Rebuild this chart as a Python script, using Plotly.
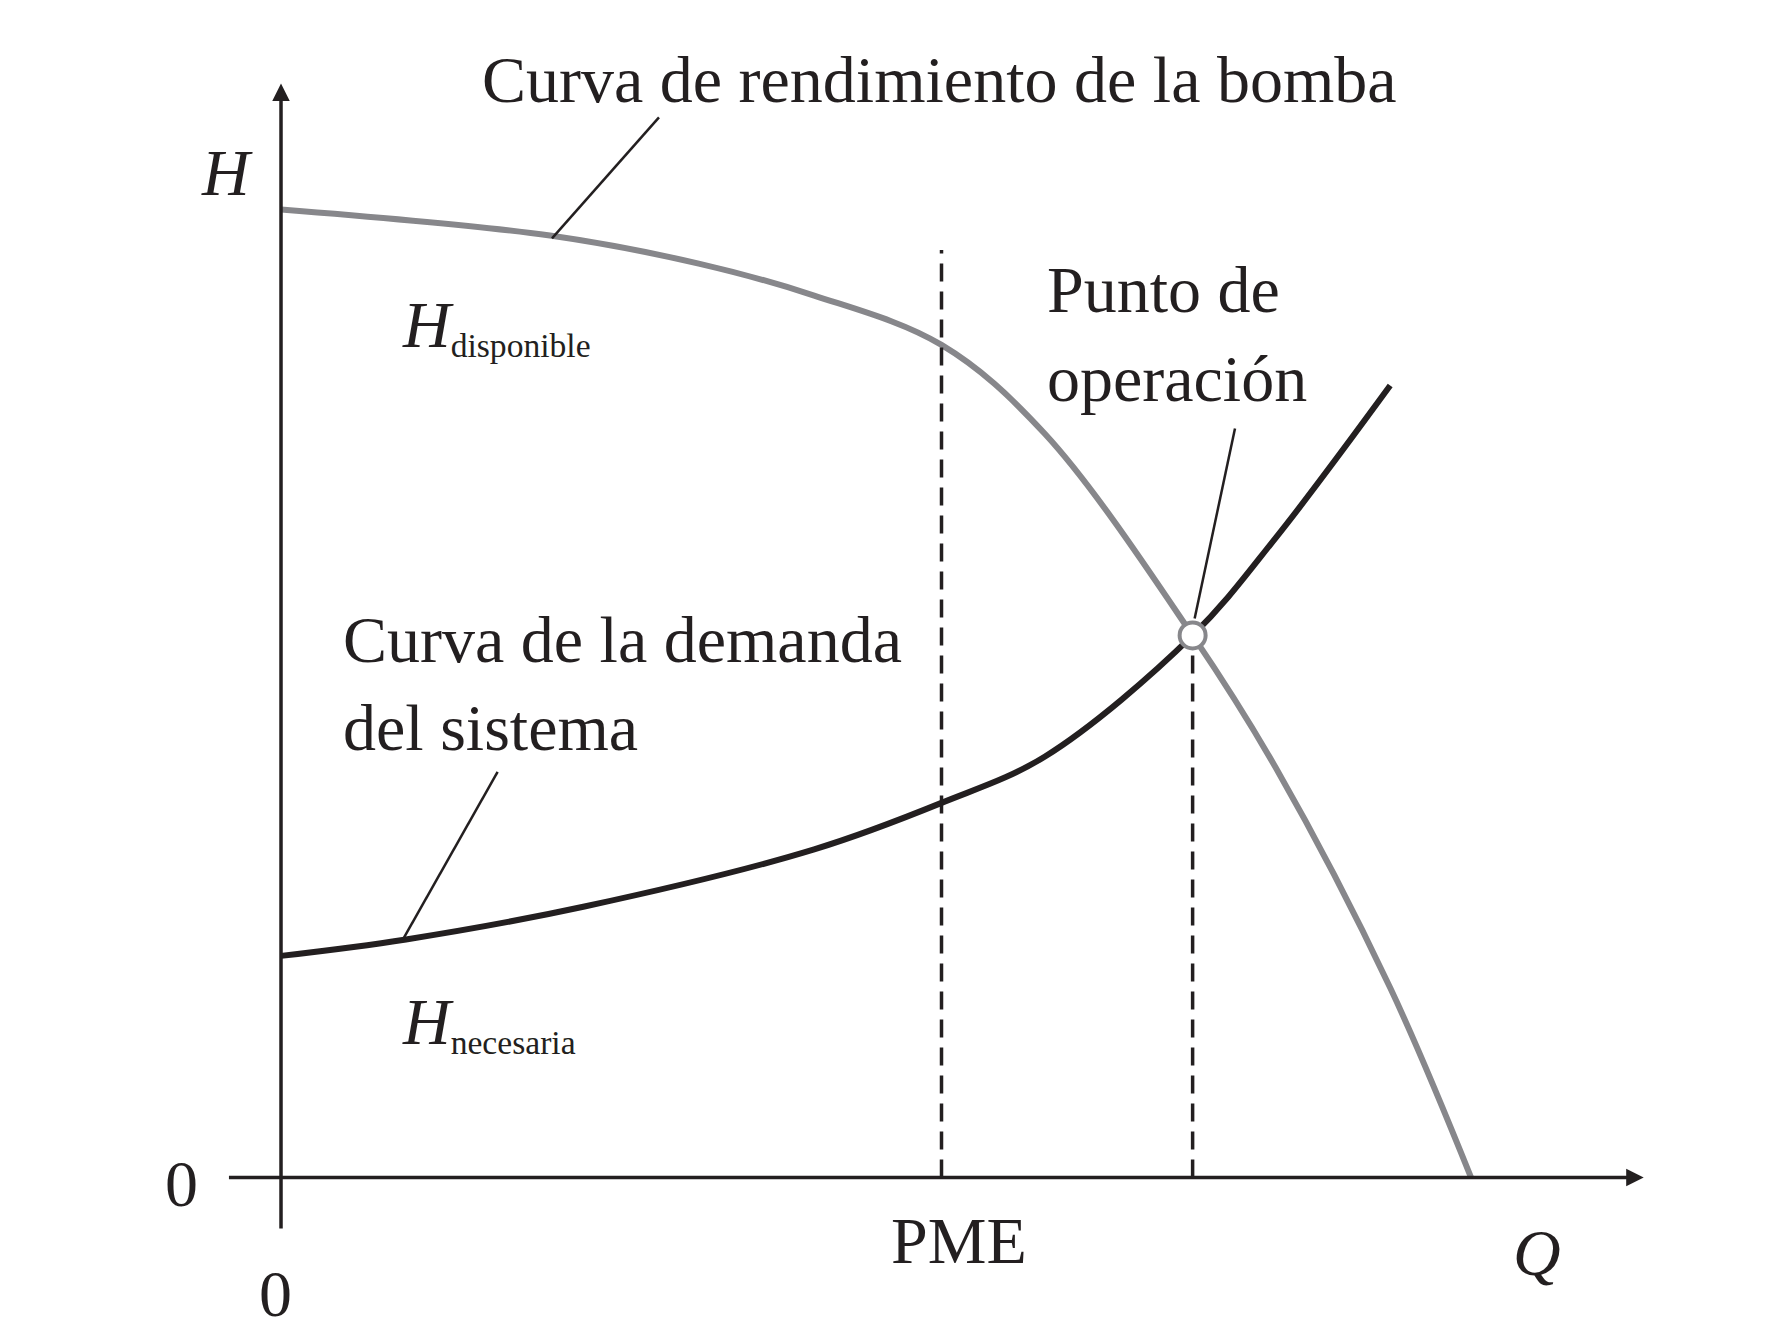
import plotly.graph_objects as go

# data units: Q (flow), H (head)
pump_q = [0, 2.26, 3.51, 4.48, 5.55, 6.42, 7.66, 8.36, 9.32, 10.0]
pump_h = [10, 9.73, 9.44, 9.11, 8.6, 7.68, 5.6, 4.23, 1.96, 0]
sys_q = [0, 1.05, 2.55, 4.48, 5.55, 6.42, 7.66, 8.36, 9.32]
sys_h = [2.29, 2.46, 2.80, 3.39, 3.87, 4.35, 5.6, 6.61, 8.18]
pme_q, pme_top = 5.55, 9.58
op_q, op_h = 7.66, 5.6

FONT = "Liberation Serif"
fig = go.Figure()
fig.add_trace(go.Scatter(x=pump_q, y=pump_h, mode="lines", line=dict(color="#87878b", width=6, shape="spline")))
fig.add_trace(go.Scatter(x=sys_q, y=sys_h, mode="lines", line=dict(color="#231f20", width=6, shape="spline")))
fig.add_trace(go.Scatter(x=[pme_q, pme_q], y=[0, pme_top], mode="lines", line=dict(color="#231f20", width=3.5, dash="18px,10px")))
fig.add_trace(go.Scatter(x=[op_q, op_q], y=[0, op_h], mode="lines", line=dict(color="#231f20", width=3.5, dash="18px,10px")))
# leader lines
for (x0, y0, x1, y1) in [(3.176, 10.95, 2.277, 9.70), (8.016, 7.738, 7.677, 5.774), (1.820, 4.19, 1.026, 2.464)]:
    fig.add_trace(go.Scatter(x=[x0, x1], y=[y0, y1], mode="lines", line=dict(color="#231f20", width=2.5)))
fig.add_trace(go.Scatter(x=[op_q], y=[op_h], mode="markers",
                         marker=dict(size=26, color="white", line=dict(color="#87878b", width=4))))

# axes with arrows
fig.add_annotation(x=11.45, y=0, ax=-0.45, ay=0, xref="x", yref="y", axref="x", ayref="y",
                   showarrow=True, arrowhead=2, arrowsize=1, arrowwidth=3.5, arrowcolor="#231f20", text="")
fig.add_annotation(x=0, y=11.3, ax=0, ay=-0.54, xref="x", yref="y", axref="x", ayref="y",
                   showarrow=True, arrowhead=2, arrowsize=1, arrowwidth=3.5, arrowcolor="#231f20", text="")

def txt(x, y, s, size=66, anchor="left"):
    fig.add_annotation(x=x, y=y, text=s, showarrow=False, xanchor=anchor, yanchor="middle",
                       font=dict(family=FONT, size=size, color="#231f20"))

txt(1.675, 11.34, "Curva de rendimiento de la bomba")
txt(-0.45, 10.38, "<i>H</i>", anchor="center")
txt(1.0, 8.8, "<i>H</i><span style='font-size:48px'><sub>disponible</sub></span>")
txt(6.42, 9.17, "Punto de")
txt(6.42, 8.25, "operación")
txt(0.5, 5.56, "Curva de la demanda")
txt(0.5, 4.65, "del sistema")
txt(1.0, 1.6, "<i>H</i><span style='font-size:48px'><sub>necesaria</sub></span>")
txt(-0.84, -0.06, "0", anchor="center")
txt(-0.05, -1.2, "0", anchor="center")
txt(5.70, -0.65, "PME", anchor="center")
txt(10.55, -0.77, "<i>Q</i>", anchor="center")

fig.update_layout(width=1788, height=1331, margin=dict(l=0, r=0, t=0, b=0),
                  plot_bgcolor="white", paper_bgcolor="white", showlegend=False,
                  xaxis=dict(range=[-2.294, 12.73], visible=False, fixedrange=True),
                  yaxis=dict(range=[-1.667, 12.08], visible=False, fixedrange=True))
fig.write_html("out.html")
